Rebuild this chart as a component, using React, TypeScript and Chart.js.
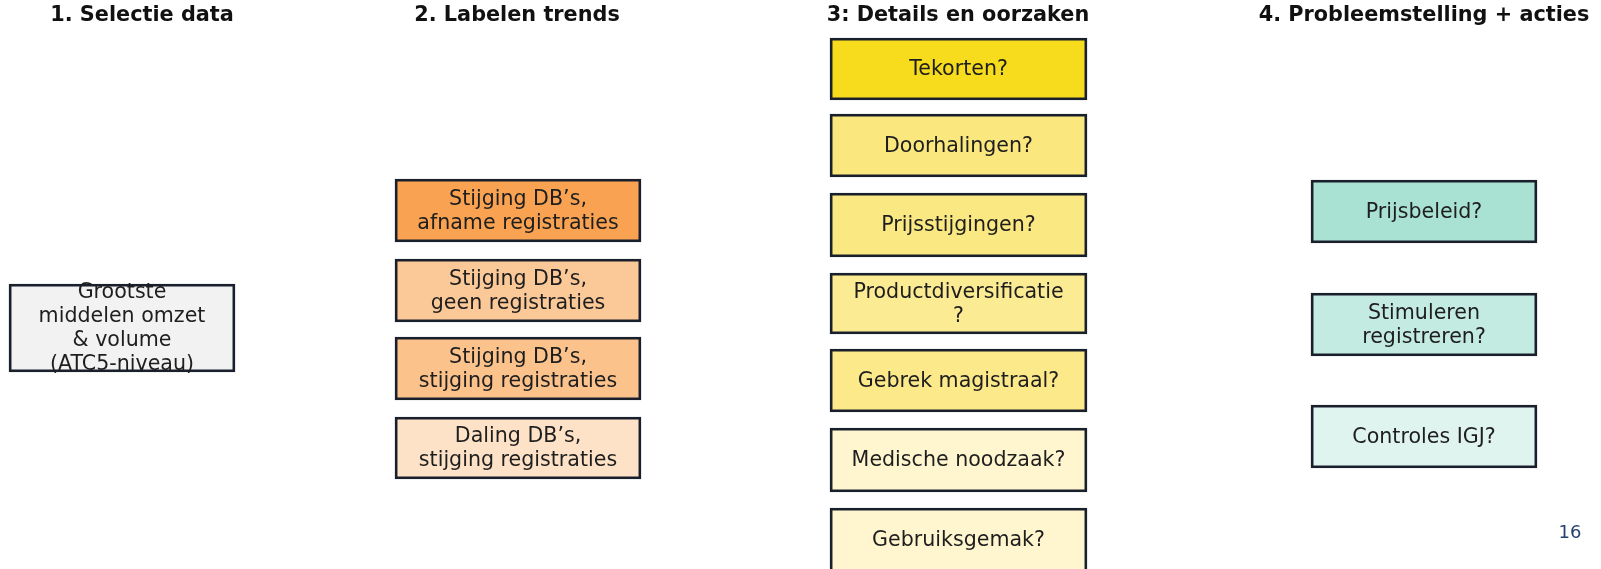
import React, { useEffect, useRef } from "react";
import { Chart, registerables } from "chart.js";

Chart.register(...registerables);

// ---------- data ----------
const stageTitles = [
  "1. Selectie data",
  "2. Labelen trends",
  "3: Details en oorzaken",
  "4. Probleemstelling + acties",
];

const selectionLabels = ["Grootste\nmiddelen omzet\n& volume\n(ATC5-niveau)"];
const selectionSpans: [number, number][] = [[284, 372]];

const trendLabels = [
  "Stijging DB\u2019s,\nafname registraties",
  "Stijging DB\u2019s,\ngeen registraties",
  "Stijging DB\u2019s,\nstijging registraties",
  "Daling DB\u2019s,\nstijging registraties",
];
const trendSpans: [number, number][] = [
  [179, 242],
  [259, 322],
  [337, 400],
  [417, 479],
];

const causeLabels = [
  "Tekorten?",
  "Doorhalingen?",
  "Prijsstijgingen?",
  "Productdiversificatie\n?",
  "Gebrek magistraal?",
  "Medische noodzaak?",
  "Gebruiksgemak?",
];
const causeSpans: [number, number][] = [
  [38, 100],
  [114, 177],
  [193, 257],
  [273, 334],
  [349, 412],
  [428, 492],
  [508, 572],
];

const actionLabels = ["Prijsbeleid?", "Stimuleren\nregistreren?", "Controles IGJ?"];
const actionSpans: [number, number][] = [
  [180, 243],
  [293, 356],
  [405, 468],
];

const pageNumber = "16";

// ---------- layout & styles ----------
const canvasW = 1601;
const canvasH = 569;
const columnCenters = [122, 518, 958.5, 1424];
const columnWidths = [226, 246, 257, 226];
const titleCenters = [142, 517, 958, 1424];
const titleY = 15.5;

const selectionColors = ["#F2F2F2"];
const trendColors = ["#F9A352", "#FBC998", "#FBC28C", "#FDE2C8"];
const causeColors = ["#F7DC1E", "#FAE87E", "#FAE882", "#FBEB92", "#FBE98A", "#FFF6CF", "#FFF6CF"];
const actionColors = ["#A9E2D2", "#C4EBE1", "#DFF4EF"];

const borderColor = "#1A1F2C";
const textColor = "#1E1E1E";
const fontFamily = "'DejaVu Sans', Verdana, sans-serif";

const columns = [
  { labels: selectionLabels, spans: selectionSpans, colors: selectionColors },
  { labels: trendLabels, spans: trendSpans, colors: trendColors },
  { labels: causeLabels, spans: causeSpans, colors: causeColors },
  { labels: actionLabels, spans: actionSpans, colors: actionColors },
];

const boxTextPlugin = {
  id: "boxText",
  afterDatasetsDraw(chart: any) {
    const ctx = chart.ctx;
    ctx.save();
    ctx.fillStyle = textColor;
    ctx.textAlign = "center";
    ctx.textBaseline = "middle";
    ctx.font = `20.6px ${fontFamily}`;
    const lh = 24;
    chart.data.datasets.forEach((ds: any, di: number) => {
      const meta = chart.getDatasetMeta(di);
      meta.data.forEach((el: any, i: number) => {
        const label: string = ds.boxLabels[i];
        const lines = label.split("\n");
        const top = Math.min(el.y, el.base);
        const bottom = Math.max(el.y, el.base);
        const cy = (top + bottom) / 2 + 1;
        const y0 = cy - ((lines.length - 1) * lh) / 2;
        lines.forEach((ln, k) => ctx.fillText(ln, el.x, y0 + k * lh));
      });
    });
    // titles
    ctx.font = `bold 20.8px ${fontFamily}`;
    ctx.fillStyle = "#111111";
    const xs = chart.scales.x;
    const ys = chart.scales.y;
    stageTitles.forEach((t, i) => {
      ctx.fillText(t, xs.getPixelForValue(titleCenters[i]), ys.getPixelForValue(titleY));
    });
    // page number
    ctx.font = `18px ${fontFamily}`;
    ctx.fillStyle = "#24426E";
    ctx.fillText(pageNumber, xs.getPixelForValue(1570), ys.getPixelForValue(533));
    ctx.restore();
  },
};

export default function App() {
  const ref = useRef<HTMLCanvasElement | null>(null);

  useEffect(() => {
    if (!ref.current) return;
    const datasets = columns.map((col, ci) => ({
      label: stageTitles[ci],
      data: col.spans.map((s) => ({ x: columnCenters[ci], y: [s[0], s[1]] })),
      boxLabels: col.labels,
      backgroundColor: col.colors,
      borderColor: borderColor,
      borderWidth: 2.8,
      borderSkipped: false,
      barThickness: columnWidths[ci],
      grouped: false,
    }));
    const chart = new Chart(ref.current, {
      type: "bar",
      data: { datasets } as any,
      options: {
        animation: false,
        responsive: true,
        maintainAspectRatio: false,
        events: [],
        layout: { padding: 0 },
        plugins: { legend: { display: false }, tooltip: { enabled: false } },
        scales: {
          x: { type: "linear", min: 0, max: canvasW, offset: false, display: false },
          y: { type: "linear", min: 0, max: canvasH, reverse: true, display: false },
        },
      } as any,
      plugins: [boxTextPlugin],
    });
    return () => chart.destroy();
  }, []);

  return (
    <div
      style={{
        position: "fixed",
        left: 0,
        top: 0,
        width: canvasW,
        height: canvasH,
        background: "#FFFFFF",
      }}
    >
      <canvas ref={ref} />
    </div>
  );
}
